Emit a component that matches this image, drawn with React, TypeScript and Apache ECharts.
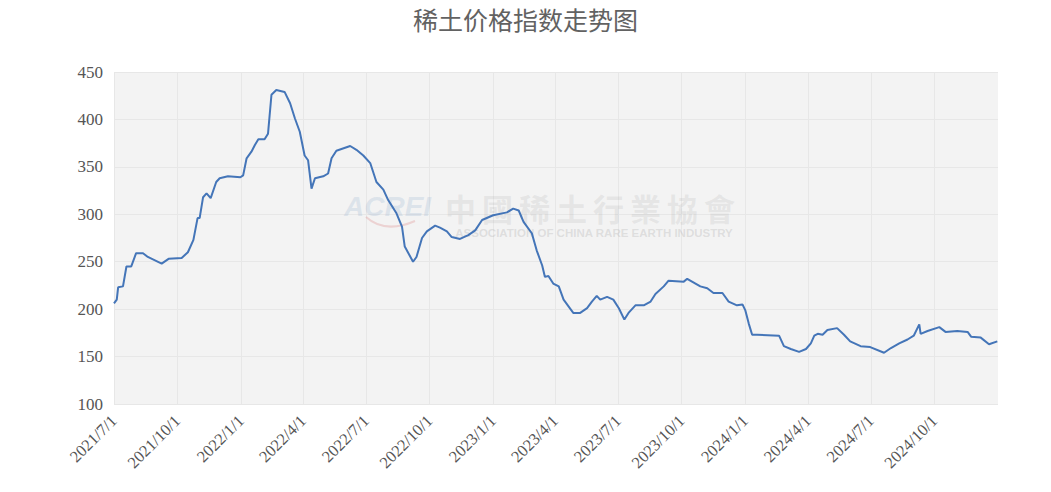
import React, { useEffect, useRef } from "react";
import * as echarts from "echarts";

const titleText = "稀土价格指数走势图";

const quarterTicks = [
  "2021/7/1", "2021/10/1", "2022/1/1", "2022/4/1", "2022/7/1", "2022/10/1",
  "2023/1/1", "2023/4/1", "2023/7/1", "2023/10/1", "2024/1/1", "2024/4/1",
  "2024/7/1", "2024/10/1",
];

const yMin = 100;
const yMax = 450;
const yStep = 50;

const dates = [
  "2021/7/1", "2021/7/5", "2021/7/7", "2021/7/14", "2021/7/19", "2021/7/26",
  "2021/8/2", "2021/8/12", "2021/8/19", "2021/9/8", "2021/9/18", "2021/10/7",
  "2021/10/16", "2021/10/24", "2021/10/30", "2021/11/2", "2021/11/7", "2021/11/12",
  "2021/11/18", "2021/11/26", "2021/12/1", "2021/12/13", "2021/12/31", "2022/1/4",
  "2022/1/9", "2022/1/16", "2022/1/21", "2022/1/26", "2022/2/4", "2022/2/9",
  "2022/2/14", "2022/2/21", "2022/3/5", "2022/3/13", "2022/3/20", "2022/3/27",
  "2022/4/3", "2022/4/8", "2022/4/13", "2022/4/18", "2022/4/30", "2022/5/7",
  "2022/5/12", "2022/5/19", "2022/6/8", "2022/6/17", "2022/6/27", "2022/7/7",
  "2022/7/16", "2022/7/26", "2022/8/2", "2022/8/14", "2022/8/22", "2022/8/26",
  "2022/9/7", "2022/9/12", "2022/9/20", "2022/9/27", "2022/10/9", "2022/10/16",
  "2022/10/26", "2022/11/2", "2022/11/14", "2022/11/26", "2022/12/6", "2022/12/16",
  "2023/1/1", "2023/1/21", "2023/1/30", "2023/2/7", "2023/2/14", "2023/2/26",
  "2023/3/5", "2023/3/13", "2023/3/17", "2023/3/22", "2023/3/29", "2023/4/6",
  "2023/4/13", "2023/4/27", "2023/5/7", "2023/5/17", "2023/5/24", "2023/5/31",
  "2023/6/5", "2023/6/15", "2023/6/24", "2023/7/2", "2023/7/10", "2023/7/16",
  "2023/7/26", "2023/8/7", "2023/8/17", "2023/8/24", "2023/9/5", "2023/9/12",
  "2023/10/4", "2023/10/9", "2023/10/21", "2023/10/28", "2023/11/7", "2023/11/16",
  "2023/11/29", "2023/12/8", "2023/12/20", "2023/12/28", "2024/1/1", "2024/1/6",
  "2024/1/11", "2024/1/18", "2024/2/19", "2024/2/26", "2024/3/7", "2024/3/19",
  "2024/3/29", "2024/4/5", "2024/4/10", "2024/4/15", "2024/4/22", "2024/4/29",
  "2024/5/13", "2024/5/23", "2024/6/1", "2024/6/16", "2024/6/30", "2024/7/20",
  "2024/7/30", "2024/8/11", "2024/8/23", "2024/9/1", "2024/9/9", "2024/9/11",
  "2024/9/21", "2024/10/8", "2024/10/17", "2024/11/3", "2024/11/18", "2024/11/23",
  "2024/12/7", "2024/12/19", "2024/12/31",
];

const values = [
  206, 210, 223, 224, 245, 245,
  259, 259, 255, 248, 253, 254,
  260, 273, 296, 296, 318, 322,
  317, 334, 338, 340, 339, 341,
  359, 366, 373, 379, 379, 385,
  426, 431, 429, 417, 401, 387,
  362, 357, 327, 338, 340, 343,
  359, 367, 372, 368, 362, 354,
  334, 326, 315, 301, 287, 266,
  250, 255, 275, 282, 288, 286,
  282, 276, 274, 278, 283, 294,
  299, 302, 306, 304, 292, 280,
  262, 246, 234, 235, 227, 224,
  210, 196, 196, 201, 208, 214,
  210, 213, 210, 201, 189, 196,
  204, 204, 208, 216, 224, 230,
  229, 232, 227, 224, 222, 217,
  217, 208, 204, 205, 199, 185,
  173, 173, 172, 161, 158, 155,
  158, 164, 172, 174, 173, 178,
  180, 173, 166, 161, 160, 154,
  159, 164, 168, 172, 184, 174,
  177, 181, 176, 177, 176, 171,
  170, 163, 166,
];

const axisStart = "2021/7/1";
const axisEnd = "2025/1/1";

function buildDays(start: string, end: string): string[] {
  const [sy, sm, sd] = start.split("/").map(Number);
  const [ey, em, ed] = end.split("/").map(Number);
  const out: string[] = [];
  let t = Date.UTC(sy, sm - 1, sd);
  const tEnd = Date.UTC(ey, em - 1, ed);
  while (t <= tEnd) {
    const dt = new Date(t);
    out.push(`${dt.getUTCFullYear()}/${dt.getUTCMonth() + 1}/${dt.getUTCDate()}`);
    t += 86400000;
  }
  return out;
}

const wmChinese = "中國稀土行業協會";
const wmEnglish = "ASSOCIATION OF CHINA RARE EARTH INDUSTRY";

export default function App() {
  const ref = useRef<HTMLDivElement>(null);

  useEffect(() => {
    document.body.style.margin = "0";
    if (!ref.current) return;
    const chart = echarts.init(ref.current, null, { renderer: "svg" });
    const days = buildDays(axisStart, axisEnd);
    const tickSet = new Set(quarterTicks);
    const isTick = (_i: number, v: string) => tickSet.has(v);

    const graphic: any[] = [
      {
        type: "text",
        x: 344,
        y: 206,
        z: 1,
        style: {
          text: "ACREI",
          fontFamily: "Liberation Sans",
          fontStyle: "italic",
          fontWeight: "bold",
          fontSize: 28,
          fill: "rgba(140,170,205,0.22)",
          verticalAlign: "middle",
        },
      },
      {
        type: "bezierCurve",
        z: 1,
        shape: { x1: 366, y1: 217, cpx1: 385, cpy1: 234, x2: 415, y2: 221 },
        style: { stroke: "rgba(215,110,110,0.25)", lineWidth: 2, fill: "none" },
      },
      ...wmChinese.split("").map((ch, i) => ({
        type: "text",
        x: 445 + i * 37,
        y: 207,
        z: 1,
        style: {
          text: ch,
          fontFamily: "Noto Sans CJK TC",
          fontWeight: "bold",
          fontSize: 31,
          fill: "rgba(170,170,170,0.2)",
          verticalAlign: "middle",
        },
      })),
      {
        type: "text",
        x: 594,
        y: 233,
        z: 1,
        style: {
          text: wmEnglish,
          fontFamily: "Liberation Sans",
          fontWeight: "bold",
          fontSize: 11.5,
          fill: "rgba(170,170,170,0.3)",
          align: "center",
          verticalAlign: "middle",
        },
      },
    ];

    chart.setOption({
      animation: false,
      title: {
        text: titleText,
        left: "center",
        top: 1,
        textStyle: {
          fontFamily: "Noto Sans CJK SC",
          fontWeight: "normal",
          fontSize: 25,
          color: "#626262",
        },
      },
      grid: {
        left: 114,
        right: 53,
        top: 72,
        bottom: 88,
        show: true,
        backgroundColor: "#f3f3f3",
        borderWidth: 0,
      },
      xAxis: {
        type: "category",
        data: days,
        boundaryGap: false,
        axisLine: { show: false },
        axisTick: { show: false },
        axisLabel: {
          interval: isTick,
          rotate: 45,
          margin: 14,
          fontFamily: "Liberation Serif",
          fontSize: 16.5,
          color: "#555",
        },
        splitLine: {
          show: true,
          interval: isTick,
          lineStyle: { color: "#e7e7e7", width: 1 },
        },
      },
      yAxis: {
        type: "value",
        min: yMin,
        max: yMax,
        interval: yStep,
        axisLine: { show: false },
        axisTick: { show: false },
        axisLabel: {
          margin: 11,
          fontFamily: "Liberation Serif",
          fontSize: 17,
          color: "#555",
        },
        splitLine: { show: true, lineStyle: { color: "#e7e7e7", width: 1 } },
      },
      graphic,
      series: [
        {
          type: "line",
          data: dates.map((d, i) => [d, values[i]]),
          showSymbol: false,
          symbol: "none",
          z: 3,
          lineStyle: { color: "#4475b8", width: 2 },
        },
      ],
    });

    return () => chart.dispose();
  }, []);

  return <div ref={ref} style={{ width: 1051, height: 492 }} />;
}
